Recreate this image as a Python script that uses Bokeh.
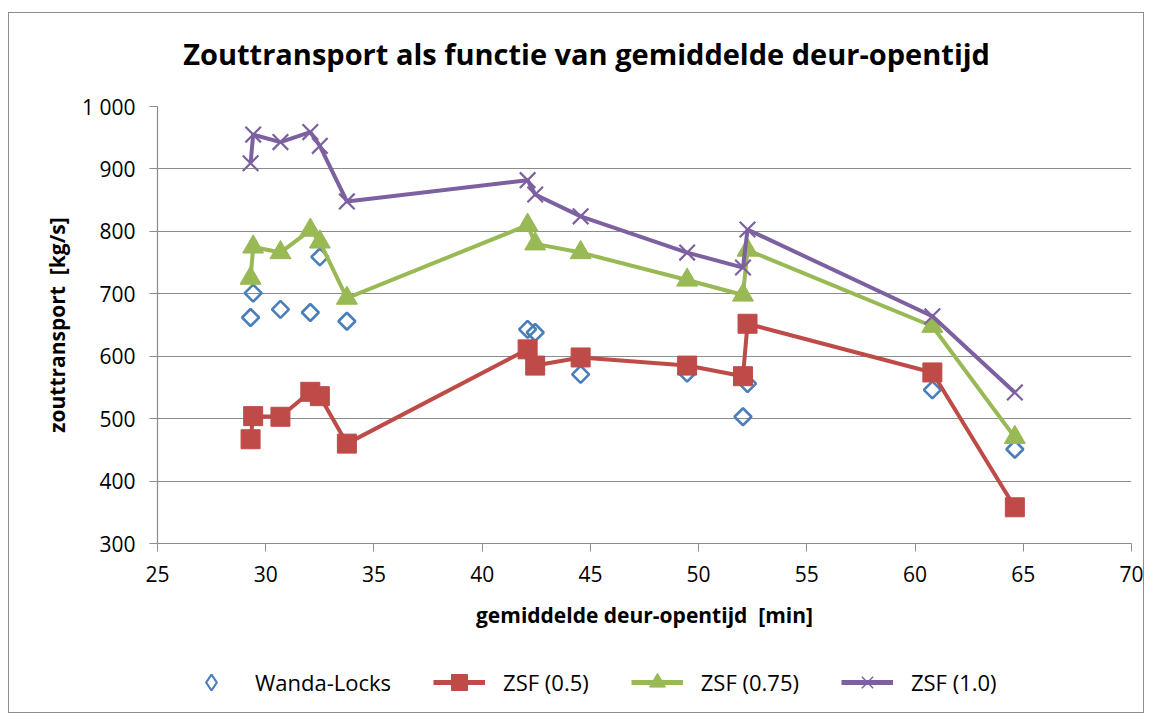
import numpy as np
from bokeh.plotting import figure
from bokeh.layouts import column
from bokeh.core.properties import value
from bokeh.models import Range1d, FixedTicker, Legend, LegendItem, ColumnDataSource
from bokeh.embed import file_html
from bokeh.resources import INLINE

# data
deur_opentijd = [29.3, 29.42, 30.68, 32.06, 32.5, 33.75, 42.1, 42.45, 44.55, 49.47, 52.05, 52.26, 60.8, 64.61]
wanda_locks = [662, 701, 675, 670, 759, 656, 643, 638, 571, 573, 503, 556, 546, 451]
zsf_050 = [467, 504, 503, 543, 536, 460, 611, 585, 598, 585, 568, 652, 574, 358]
zsf_075 = [725, 775, 766, 802, 783, 693, 810, 780, 766, 722, 698, 770, 648, 470]
zsf_100 = [909, 955, 943, 959, 937, 848, 882, 859, 824, 766, 742, 803, 664, 542]

x_ticks = [25, 30, 35, 40, 45, 50, 55, 60, 65, 70]
y_ticks = [300, 400, 500, 600, 700, 800, 900, 1000]
y_tick_labels = {1000: "1 000"}

series_names = ["Wanda-Locks", "ZSF (0.5)", "ZSF (0.75)", "ZSF (1.0)"]
title_text = "Zouttransport als functie van gemiddelde deur-opentijd"

FONT = "Open Sans"
BLUE = "#4A7EBB"
RED = "#BE4B48"
GREEN = "#98B954"
PURPLE = "#7D60A0"
GRID = "#8C8C8C"

W = 1134
ML, MR = 148, 12

# title strip
t = figure(width=W, height=78, output_backend="svg", toolbar_location=None,
           x_range=Range1d(0, 1), y_range=Range1d(0, 1),
           x_axis_location=None, y_axis_location=None,
           min_border_left=ML, min_border_right=MR, min_border_top=0, min_border_bottom=0)
t.outline_line_color = None
t.grid.visible = False
t.border_fill_color = "white"
t.text(x=[0.4405], y=[0.487], text=[title_text], text_align="center", text_baseline="middle",
       text_font=value(FONT), text_font_size="29px", text_font_style="bold", text_color="black")

# main chart
p = figure(width=W, height=554, output_backend="svg", toolbar_location=None,
           x_range=Range1d(25, 70), y_range=Range1d(300, 1000),
           min_border_left=ML, min_border_right=MR, min_border_top=15, min_border_bottom=102)
p.outline_line_color = None
p.background_fill_color = "white"
p.border_fill_color = "white"

p.xaxis.ticker = FixedTicker(ticks=x_ticks)
p.yaxis.ticker = FixedTicker(ticks=y_ticks)
p.yaxis.major_label_overrides = y_tick_labels
for ax in (p.xaxis[0], p.yaxis[0]):
    ax.axis_line_color = GRID
    ax.axis_line_width = 1.2
    ax.major_tick_line_color = GRID
    ax.major_tick_out = 8
    ax.major_tick_in = 0
    ax.minor_tick_line_color = None
    ax.major_label_text_font = FONT
    ax.major_label_text_font_size = "21px"
    ax.major_label_text_color = "black"
    ax.axis_label_text_font = FONT
    ax.axis_label_text_font_size = "21px"
    ax.axis_label_text_font_style = "bold"
    ax.axis_label_text_color = "black"
p.xaxis.axis_label = "gemiddelde deur-opentijd\u00a0 [min]"
p.yaxis.axis_label = "zouttransport\u00a0 [kg/s]"
p.xaxis.major_label_standoff = 14
p.yaxis.major_label_standoff = 14
p.xaxis.axis_label_standoff = 16
p.yaxis.axis_label_standoff = 8

p.xgrid.grid_line_color = None
p.ygrid.grid_line_color = GRID
p.ygrid.grid_line_width = 1.2

src = ColumnDataSource(dict(x=deur_opentijd, w=wanda_locks, r=zsf_050, g=zsf_075, p=zsf_100))

p.scatter("x", "w", source=src, marker="square", angle=np.pi / 4, size=12,
          fill_color=None, line_color=BLUE, line_width=2.6)

p.line("x", "r", source=src, line_color=RED, line_width=4)
p.scatter("x", "r", source=src, marker="square", size=19, fill_color=RED, line_color=RED)

p.line("x", "g", source=src, line_color=GREEN, line_width=4)
p.scatter("x", "g", source=src, marker="triangle", size=21, fill_color=GREEN, line_color=GREEN)

p.line("x", "p", source=src, line_color=PURPLE, line_width=4)
p.scatter("x", "p", source=src, marker="x", size=22, line_color=PURPLE, line_width=2.2)

# legend strip (separate figure so the legend sits below the chart);
# its glyph renderers use the same data, which lies outside this strip's ranges
q = figure(width=W, height=67, output_backend="svg", toolbar_location=None,
           x_range=Range1d(0, 1), y_range=Range1d(0, 1),
           x_axis_location=None, y_axis_location=None,
           min_border_left=ML, min_border_right=MR, min_border_top=0, min_border_bottom=0)
q.outline_line_color = None
q.grid.visible = False
q.border_fill_color = "white"

k_w = q.scatter("x", "w", source=src, marker="diamond", fill_color=None, line_color=BLUE, line_width=2.2)
k_rl = q.line("x", "r", source=src, line_color=RED, line_width=5)
k_rm = q.scatter("x", "r", source=src, marker="square", fill_color=RED, line_color=RED)
k_gl = q.line("x", "g", source=src, line_color=GREEN, line_width=5)
k_gm = q.scatter("x", "g", source=src, marker="triangle", fill_color=GREEN, line_color=GREEN)
k_pl = q.line("x", "p", source=src, line_color=PURPLE, line_width=5)
k_pm = q.scatter("x", "p", source=src, marker="x", line_color=PURPLE, line_width=1.5)

legend = Legend(items=[
    LegendItem(label=series_names[0], renderers=[k_w]),
    LegendItem(label=series_names[1], renderers=[k_rl, k_rm]),
    LegendItem(label=series_names[2], renderers=[k_gl, k_gm]),
    LegendItem(label=series_names[3], renderers=[k_pl, k_pm]),
], orientation="horizontal", location=(28, 10))
legend.label_text_font = FONT
legend.label_text_font_size = "22px"
legend.label_text_color = "black"
legend.glyph_width = 52
legend.glyph_height = 40
legend.label_standoff = 18
legend.spacing = 42
legend.border_line_color = None
legend.background_fill_alpha = 0
legend.margin = 0
legend.padding = 0
q.add_layout(legend, "center")

layout = column(t, p, q, spacing=0)
layout.styles = {"border": "1px solid #8C8C8C", "margin-left": "8px", "margin-top": "12px"}
open("out.html", "w").write(file_html(layout, INLINE))
